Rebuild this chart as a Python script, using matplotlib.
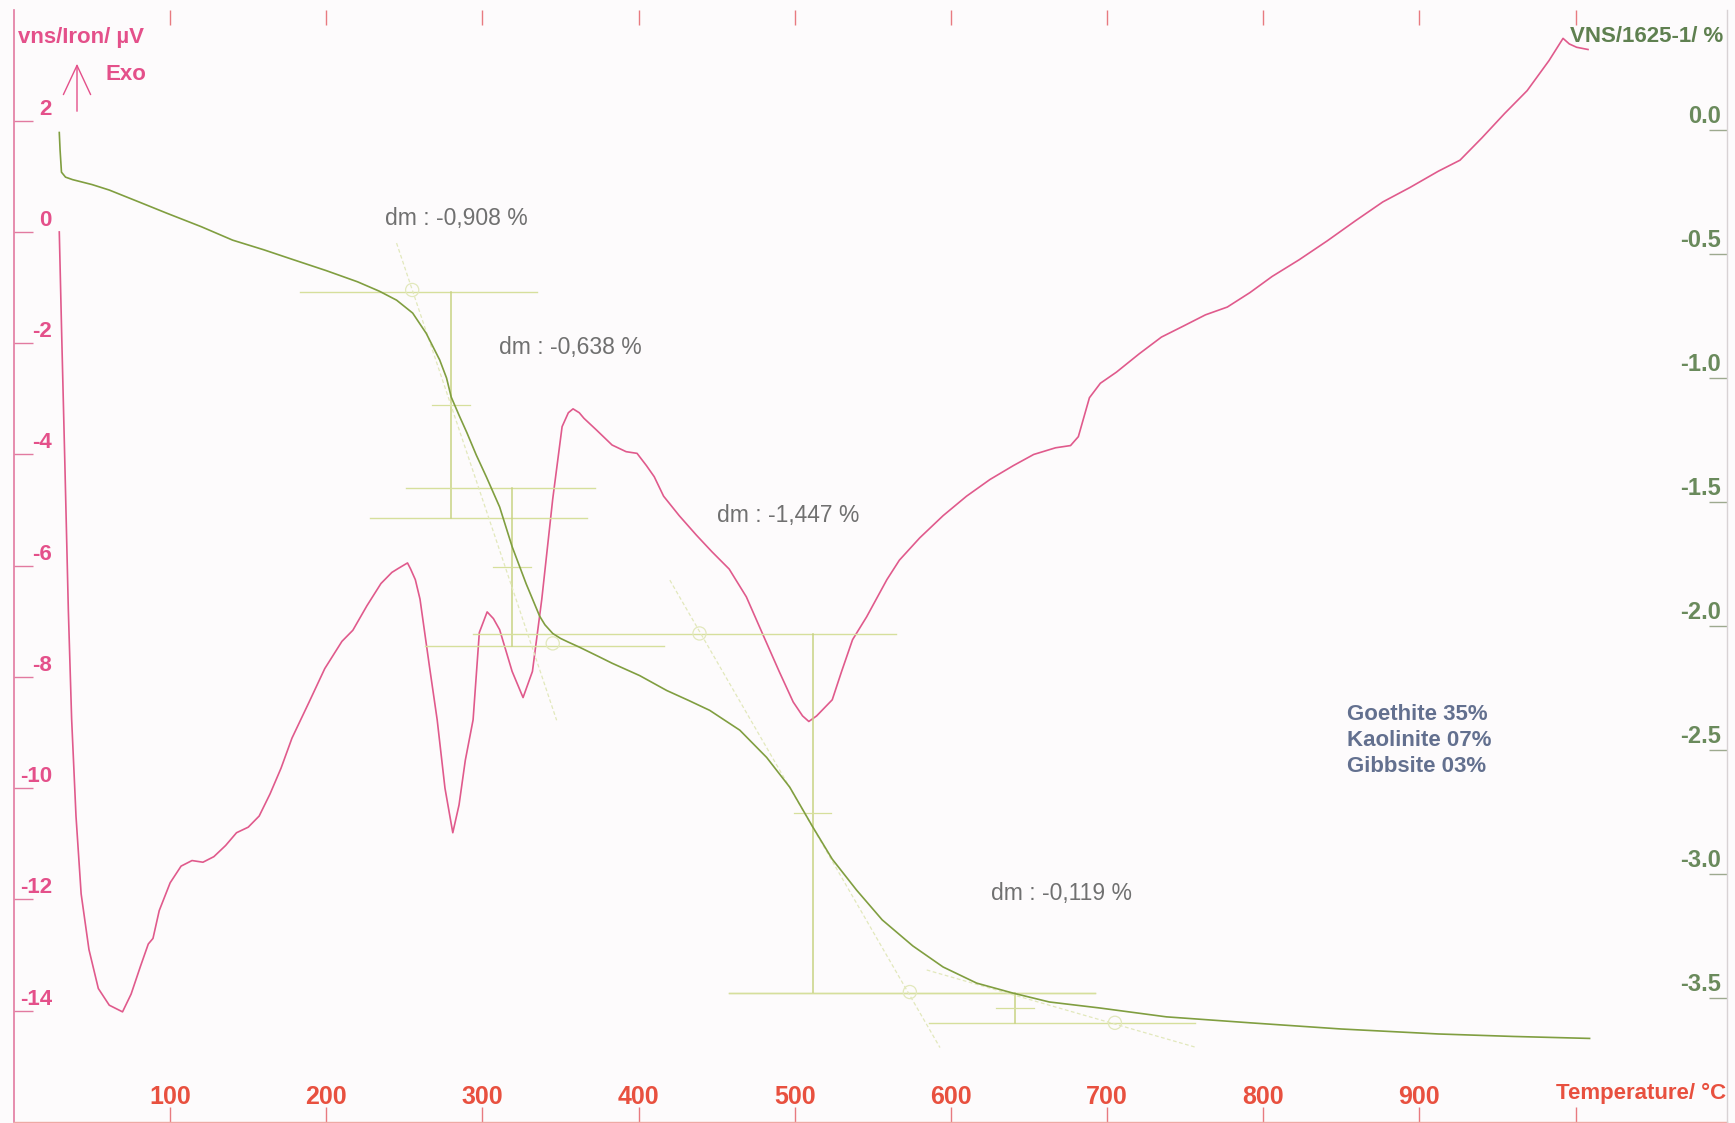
import matplotlib
matplotlib.use("Agg")
import matplotlib.pyplot as plt
from matplotlib import font_manager
from matplotlib.patches import FancyArrowPatch

# ---- fonts -------------------------------------------------------------
_names = {f.name for f in font_manager.fontManager.ttflist}
SANS = "Liberation Sans" if "Liberation Sans" in _names else "DejaVu Sans"
NARROW = "Liberation Sans Narrow" if "Liberation Sans Narrow" in _names else SANS
plt.rcParams["font.family"] = [SANS, "DejaVu Sans"]

# ---- data --------------------------------------------------------------
# DTA signal (µV) versus temperature (°C)
dta_temp = [29, 30.5, 32.6, 34.8, 36.9, 39.7, 43, 48, 54, 61, 69.5, 75, 81, 86, 89, 93,
            100, 107, 114, 121, 128, 135.5, 142.5, 150, 157, 164, 171, 178, 189, 199,
            210, 217, 226, 235, 242, 246, 249, 252, 254, 257, 260, 266, 271, 276, 281,
            285, 289, 294, 298, 303, 307, 311, 319, 326, 332, 338, 345, 351, 355, 358,
            362, 365, 373, 383, 392, 399, 405, 410, 416, 426, 437, 447, 458, 469, 479,
            490, 499, 505, 509, 514, 524, 530, 537, 546, 559, 567, 580, 595, 610, 625,
            640, 653, 667, 676.6, 681.6, 688.7, 695.7, 706, 720.6, 734.8, 749, 763, 777,
            791.5, 805.7, 823, 841, 859, 876.6, 894, 912, 926, 940, 954.6, 969, 983, 992,
            996, 1000.7, 1008]
dta_uv = [0.0, -1.8, -4.2, -6.8, -8.75, -10.5, -11.9, -12.9, -13.6, -13.9, -14.02, -13.7,
          -13.2, -12.8, -12.7, -12.2, -11.7, -11.4, -11.3, -11.33, -11.23, -11.03, -10.8,
          -10.7, -10.5, -10.1, -9.64, -9.1, -8.45, -7.85, -7.36, -7.16, -6.72, -6.32,
          -6.12, -6.05, -6.0, -5.95, -6.06, -6.25, -6.6, -7.8, -8.77, -10.0, -10.8, -10.3,
          -9.5, -8.77, -7.2, -6.83, -6.95, -7.15, -7.9, -8.37, -7.9, -6.6, -4.8, -3.5,
          -3.25, -3.18, -3.25, -3.35, -3.56, -3.83, -3.95, -3.98, -4.2, -4.4, -4.75, -5.1,
          -5.45, -5.75, -6.06, -6.56, -7.2, -7.9, -8.45, -8.7, -8.8, -8.7, -8.41, -7.9,
          -7.33, -6.92, -6.25, -5.9, -5.5, -5.1, -4.75, -4.45, -4.2, -4.0, -3.88, -3.84,
          -3.68, -2.98, -2.72, -2.52, -2.19, -1.89, -1.69, -1.49, -1.35, -1.09, -0.8, -0.5,
          -0.16, 0.2, 0.54, 0.8, 1.09, 1.29, 1.69, 2.13, 2.54, 3.08, 3.48, 3.38, 3.32, 3.28]

# TG mass change (%) versus temperature (°C)
tg_temp = [29, 29.5, 30.4, 33, 37.5, 50, 61, 80, 97.7, 120, 140, 160, 178, 200, 220, 234,
           245, 255.3, 264, 272.6, 277, 280, 285, 290, 296, 302.6, 311, 319, 328, 336.6,
           340, 345, 350, 355, 362, 375, 383, 400.7, 418, 432, 445.5, 464.8, 482, 496.8,
           511.5, 524, 539.6, 556, 575.6, 595, 616.5, 639.6, 663, 695, 738, 791.5, 850,
           912, 960, 1009]
tg_pct = [-0.01, -0.08, -0.17, -0.19, -0.20, -0.22, -0.242, -0.29, -0.335, -0.39, -0.444,
          -0.483, -0.521, -0.567, -0.612, -0.650, -0.686, -0.738, -0.82, -0.927, -1.0,
          -1.077, -1.15, -1.22, -1.31, -1.40, -1.52, -1.68, -1.83, -1.96, -1.995, -2.03,
          -2.05, -2.065, -2.085, -2.125, -2.15, -2.20, -2.26, -2.30, -2.34, -2.42, -2.53,
          -2.65, -2.81, -2.94, -3.065, -3.185, -3.29, -3.375, -3.44, -3.48, -3.516, -3.54,
          -3.576, -3.60, -3.625, -3.645, -3.655, -3.663]

# Mass-loss steps: step temperature, upper level, loss and label
step_temp = [280, 319, 511.5, 641]
step_top = [-0.655, -1.444, -2.032, -3.480]
step_loss = [0.908, 0.638, 1.447, 0.119]
step_text = ["dm : -0,908 %", "dm : -0,638 %", "dm : -1,447 %", "dm : -0,119 %"]
# horizontal extents of the upper / lower reference lines
step_top_span = [(183, 335), (251, 372), (294, 565), (458, 692)]
step_low_span = [(228, 367), (263, 416), (458, 692), (586, 756)]
# label anchors (temperature, %)
step_label_t = [283.5, 356.5, 495.5, 671]
step_label_p = [-0.355, -0.875, -1.556, -3.08]

# tangents drawn through the steps: ((T0, p0), (T1, p1))
tangents = [((245, -0.456), (347.5, -2.38)),
            ((420, -1.815), (593, -3.70)),
            ((584.5, -3.387), (757.5, -3.70))]
# tangent intersection markers
marker_t = [255, 345, 439, 573.7, 705]
marker_p = [-0.645, -2.07, -2.03, -3.476, -3.60]

x_ticks = [100, 200, 300, 400, 500, 600, 700, 800, 900]
x_tick_extra = 1000
dta_ticks = [2, 0, -2, -4, -6, -8, -10, -12, -14]
tg_ticks = [0.0, -0.5, -1.0, -1.5, -2.0, -2.5, -3.0, -3.5]

minerals = ["Goethite 35%", "Kaolinite 07%", "Gibbsite 03%"]

# ---- colours -----------------------------------------------------------
PINK = "#E05A8C"
PINK_TXT = "#E4508A"
RED_TXT = "#E8503F"
GREEN_LINE = "#809E40"
GREEN_TXT = "#6A8A5C"
CONSTR = "#D6DF9C"
CONSTR_V = "#C8D383"
TANG = "#E2E8BC"
GRAY_TXT = "#707070"
SLATE = "#63708F"
BG = "#FDFBFC"

W, H = 1735, 1123
fig = plt.figure(figsize=(W / 100, H / 100), dpi=100, facecolor=BG)

L, R, T, B = 14, 1727, 10, 1122
ax = fig.add_axes([L / W, 1 - B / H, (R - L) / W, (B - T) / H])
ax.set_facecolor(BG)
ax2 = ax.twinx()

ax.set_xlim(0, 1097)
ax.set_ylim(-16, 3.99)
ax2.set_ylim(-4.0, 0.484)

# ---- curves ------------------------------------------------------------
ax.plot(dta_temp, dta_uv, color=PINK, lw=1.2, zorder=3)

# step construction (on the TG axes)
for i in range(len(step_temp)):
    t0 = step_temp[i]
    top = step_top[i]
    low = top - step_loss[i]
    ax2.plot(step_top_span[i], [top, top], color=CONSTR, lw=1.0, zorder=1)
    ax2.plot(step_low_span[i], [low, low], color=CONSTR, lw=1.0, zorder=1)
    ax2.plot([t0, t0], [top, low], color=CONSTR_V, lw=1.1, zorder=1)
    mid = (top + low) / 2
    ax2.plot([t0 - 12, t0 + 12], [mid, mid], color=CONSTR, lw=0.9, zorder=1)
    ax2.text(step_label_t[i], step_label_p[i], step_text[i], color=GRAY_TXT,
             fontsize=16.5, ha="center", va="center", zorder=4)

for (a, b) in tangents:
    ax2.plot([a[0], b[0]], [a[1], b[1]], color=TANG, lw=0.9, ls=(0, (3, 2)), zorder=1)
ax2.scatter(marker_t, marker_p, s=90, facecolors="none", edgecolors=TANG,
            linewidths=0.9, zorder=1)

ax2.plot(tg_temp, tg_pct, color=GREEN_LINE, lw=1.2, zorder=3)

# ---- axes styling ------------------------------------------------------
for a in (ax, ax2):
    a.spines["top"].set_visible(False)
ax.spines["left"].set_color("#E27AA0")
ax.spines["left"].set_linewidth(1.2)
ax.spines["bottom"].set_color("#EFA9A4")
ax.spines["bottom"].set_linewidth(1.0)
ax.spines["right"].set_visible(False)
ax2.spines["left"].set_visible(False)
ax2.spines["bottom"].set_visible(False)
ax2.spines["right"].set_color("#D8D2D4")
ax2.spines["right"].set_linewidth(1.0)

ax.set_xticks(x_ticks + [x_tick_extra])
ax.tick_params(axis="x", direction="in", length=10.5, width=1.0, color="#E87A80",
               top=True, bottom=True, labelbottom=False, labeltop=False)
ax.set_yticks(dta_ticks)
ax.tick_params(axis="y", direction="in", length=14, width=1.0, color="#E27AA0",
               labelleft=False)
ax2.set_yticks(tg_ticks)
ax2.tick_params(axis="y", direction="in", length=13, width=1.0, color="#9DA98F",
                labelright=False)

# tick labels drawn inside the frame
for v in dta_ticks:
    ax.annotate(f"{v}", xy=(0, v), xycoords=("axes fraction", "data"),
                xytext=(38, 6), textcoords="offset pixels", ha="right",
                va="baseline", color=PINK_TXT, fontsize=16, fontweight="bold")
for p in tg_ticks:
    ax2.annotate(f"{p:.1f}", xy=(1, p), xycoords=("axes fraction", "data"),
                 xytext=(-6, 7), textcoords="offset pixels", ha="right",
                 va="baseline", color=GREEN_TXT, fontsize=17, fontweight="bold")
for t in x_ticks:
    ax.annotate(f"{t}", xy=(t, 0), xycoords=("data", "axes fraction"),
                xytext=(0, 18), textcoords="offset pixels", ha="center",
                va="baseline", color=RED_TXT, fontsize=18, fontweight="bold",
                family=[NARROW, "DejaVu Sans"])


# axis titles (pixel positions converted to figure fractions)
def fx(px):
    return px / W


def fy(py):
    return 1 - py / H


fig.text(fx(18), fy(37), "vns/Iron/ µV", color=PINK_TXT, fontsize=16,
         fontweight="bold", ha="left", va="center")
fig.text(fx(105), fy(75), "Exo", color=PINK_TXT, fontsize=16,
         fontweight="bold", ha="left", va="center")
fig.patches.append(FancyArrowPatch(
    (fx(77), fy(114)), (fx(77), fy(61)), transform=fig.transFigure,
    arrowstyle="->,head_length=0.75,head_width=0.35", mutation_scale=28,
    color=PINK_TXT, lw=1.0))
fig.text(fx(1723), fy(37), "VNS/1625-1/ %", color="#5F8050", fontsize=16,
         fontweight="bold", ha="right", va="center")
fig.text(fx(1726), fy(1093), "Temperature/ °C", color=RED_TXT, fontsize=16,
         fontweight="bold", ha="right", va="center")

for i, m in enumerate(minerals):
    fig.text(fx(1347), fy(715 + 26 * i), m, color=SLATE, fontsize=16,
             fontweight="bold", ha="left", va="center")

fig.savefig("out.png", dpi=100, facecolor=BG)
